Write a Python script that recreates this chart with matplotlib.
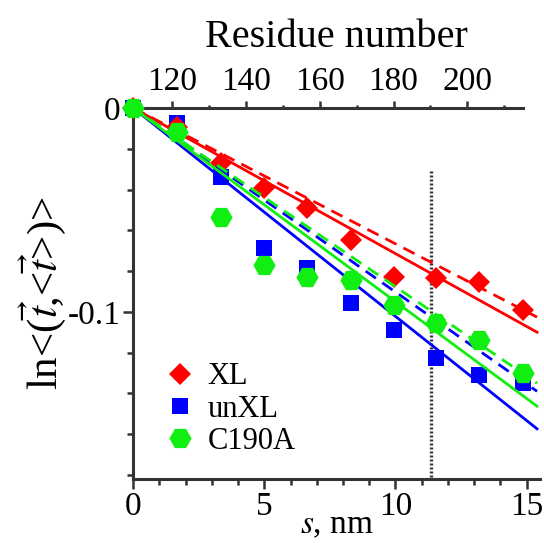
import numpy as np
import matplotlib
matplotlib.use('Agg')
from matplotlib import pyplot as plt
from matplotlib.ticker import MultipleLocator

plt.rcParams['font.family'] = ['Liberation Serif', 'DejaVu Serif']
plt.rcParams['mathtext.fontset'] = 'stix'
plt.rcParams['axes.unicode_minus'] = False

# distance along the chain, nm
s_nm = [0, 1.66, 3.36, 5.0, 6.63, 8.3, 9.95, 11.55, 13.2, 14.85]

xl = [0, -0.0092, -0.0269, -0.0392, -0.0490, -0.0647, -0.0829, -0.0834, -0.0854, -0.0991]
unxl = [0, -0.0072, -0.0338, -0.0687, -0.0785, -0.0957, -0.1089, -0.1227, -0.1311, -0.1350]
c190a = [0, -0.0116, -0.0534, -0.0770, -0.0829, -0.0844, -0.0967, -0.1055, -0.1139, -0.1301]

# fitted lines through the origin: value at the end point
fit_s = [0, 15.4]
xl_solid = [0, -0.110]
xl_dashed = [0, -0.1026]
unxl_solid = [0, -0.1574]
unxl_dashed = [0, -0.139]
c190a_solid = [0, -0.1463]
c190a_dashed = [0, -0.135]

cut_s = 11.35
cut_top = -0.031

# residue numbering on the top axis
res_start = 109.6
nm_per_res = 0.141

red = '#ff0000'
blue = '#0000ff'
green = '#11ee11'

fig = plt.figure(figsize=(5.44, 5.43), dpi=100)
ax = fig.add_axes([0.245, 0.118, 0.747, 0.683])

ax.plot(s_nm, unxl, 's', color=blue, ms=12, mew=0, label='unXL', clip_on=False, zorder=3)
ax.plot(s_nm, xl, 'D', color=red, ms=11.5, mew=0, label='XL', clip_on=False, zorder=3)
ax.plot(s_nm, c190a, 'H', color=green, ms=16, mew=0, label='C190A', clip_on=False, zorder=5)

lw = 2.0
ax.plot(fit_s, xl_solid, '-', color=red, lw=lw, zorder=4)
ax.plot(fit_s, xl_dashed, '--', color=red, lw=lw, dashes=(4.5, 2.8), zorder=4)
ax.plot(fit_s, unxl_solid, '-', color=blue, lw=lw, zorder=4)
ax.plot(fit_s, unxl_dashed, '--', color=blue, lw=lw, dashes=(4.5, 2.8), zorder=4)
ax.plot(fit_s, c190a_solid, '-', color=green, lw=lw, zorder=4)
ax.plot(fit_s, c190a_dashed, '--', color=green, lw=lw, dashes=(4.5, 2.8), zorder=4)

ax.plot([cut_s, cut_s], [cut_top, -0.182], color='#333333', lw=2.4,
        linestyle=(0, (0.6, 0.6)), zorder=2)

ax.set_xlim(0, 15.5)
ax.set_ylim(-0.182, 0)

ax.xaxis.set_major_locator(MultipleLocator(5))
ax.xaxis.set_minor_locator(MultipleLocator(1))
ax.yaxis.set_minor_locator(MultipleLocator(0.02))
ax.set_yticks([0, -0.1])
ax.set_yticklabels(['0', '-0.1'])

spine_col = '#333333'
for side in ['left', 'bottom', 'top']:
    ax.spines[side].set_color(spine_col)
    ax.spines[side].set_linewidth(2.2)
ax.spines['right'].set_visible(False)
ax.spines['top'].set_bounds(0, 14.85)

ax.tick_params(axis='both', which='major', direction='out', length=7, width=1.8,
               color=spine_col, labelsize=24, pad=2)
ax.tick_params(axis='both', which='minor', direction='out', length=4, width=1.8,
               color=spine_col)
ax.tick_params(axis='x', top=False, which='both')

ax.set_xlabel(r'$s$, nm', fontsize=24, labelpad=-9)
ax.set_ylabel(r'ln<($\vec{t}$,<$\vec{t}$>)>', fontsize=31, labelpad=0)

top = ax.secondary_xaxis('top', functions=(lambda s: res_start + np.asarray(s) / nm_per_res,
                                           lambda r: (np.asarray(r) - res_start) * nm_per_res))
top.set_xticks([120, 140, 160, 180, 200])
top.xaxis.set_minor_locator(MultipleLocator(10))
top.spines['top'].set_visible(False)
top.tick_params(which='major', direction='out', length=5, width=1.8, color=spine_col,
                labelsize=24, pad=3)
top.tick_params(which='minor', direction='out', length=2.5, width=1.8, color=spine_col)
top.set_xlabel('Residue number', fontsize=29, labelpad=14)

handles, labels = ax.get_legend_handles_labels()
order = [1, 0, 2]
ax.legend([handles[i] for i in order], [labels[i] for i in order], loc='lower left',
          bbox_to_anchor=(0.04, 0.03), frameon=False, fontsize=22, handletextpad=0.3,
          labelspacing=0.1, handlelength=1.2, borderaxespad=0)

fig.savefig('out.png', dpi=100)
